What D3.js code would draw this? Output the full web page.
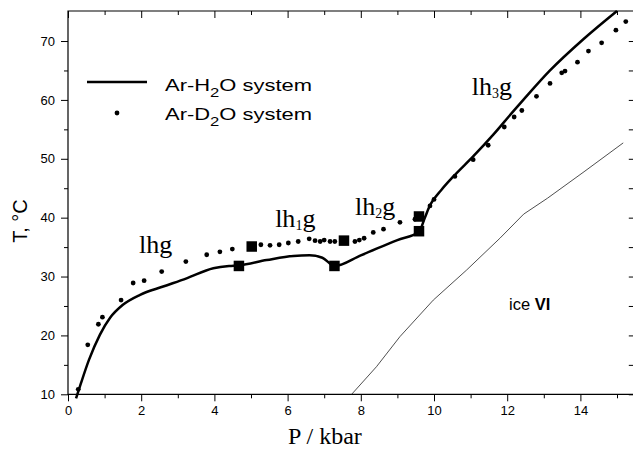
<!DOCTYPE html>
<html><head><meta charset="utf-8">
<script src="https://cdn.jsdelivr.net/npm/d3@7"></script>
<style>body{margin:0;background:#fff}svg{display:block}</style>
</head><body>
<svg id="c" width="633" height="450"></svg>
<script>
// ---- data ----
const h2oP = [0.22,0.35,0.57,0.87,1.15,1.5,1.97,2.6,3.24,3.97,4.4,4.67,5.43,6.16,6.6,6.95,7.28,8.0,9.0,9.59,9.75,9.89,10.2,10.53,11.07,11.62,12.17,12.44,13.17,14.08,15.0];
const h2oT = [9.3,11.8,15.8,20.1,23.0,25.2,26.9,28.3,29.7,31.4,31.8,31.9,32.8,33.5,33.6,33.2,31.8,33.6,36.2,37.6,40.0,42.1,44.7,47.0,50.4,54.1,58.1,60.0,65.0,70.3,75.1];
const d2oP = [0.28,0.54,0.83,0.94,1.45,1.78,2.08,2.56,3.22,3.79,4.15,4.49,5.27,5.52,5.77,6.02,6.29,6.59,6.75,6.89,7.0,7.16,7.29,7.84,7.96,8.09,8.34,8.62,9.07,9.48,9.89,10.0,10.57,11.07,11.48,11.92,12.19,12.4,12.8,13.17,13.49,13.58,13.92,14.22,14.58,14.97,15.24];
const d2oT = [10.85,18.4,21.9,23.1,26.0,28.9,29.3,30.85,32.55,33.7,34.2,34.66,35.4,35.3,35.4,35.7,35.95,36.4,36.1,35.95,36.2,35.95,35.95,35.95,36.2,36.5,37.5,38.05,39.2,39.75,42.0,43.1,47.0,49.85,52.3,55.4,57.1,58.2,60.6,62.8,64.6,64.9,66.4,68.3,69.7,71.85,73.3];
const h2oSqP = [4.67,7.28,9.59];
const h2oSqT = [31.8,31.8,37.7];
const d2oSqP = [5.02,7.54,9.59];
const d2oSqT = [35.1,36.1,40.2];
const iceP = [7.75,8.43,9.07,9.98,10.89,11.8,12.45,13.1,14.1,15.17];
const iceT = [10.0,14.7,19.8,26.0,31.1,36.5,40.6,43.3,47.8,52.7];
const xMajor = [0,2,4,6,8,10,12,14];
const xMinor = [1,3,5,7,9,11,13,15];
const yMajor = [10,20,30,40,50,60,70];
const yMinor = [15,25,35,45,55,65];
const regionLabels = [
  {p:1.94, t:34.0, a:"lhg", sub:""},
  {p:5.66, t:38.4, a:"lh", sub:"1"},
  {p:7.84, t:40.5, a:"lh", sub:"2"},
  {p:11.03, t:60.8, a:"lh", sub:"3"}
];

// ---- chart ----
const svg = d3.select("#c");
const L=68, R=634.4, T=11, B=394.3;
const x = d3.scaleLinear().domain([0,(R-L)/36.6]).range([L,R]);
const y = d3.scaleLinear().domain([10,75.1]).range([B,T]);
const sans = "'Liberation Sans', Arial, sans-serif";
const serif = "'Liberation Serif', 'Times New Roman', serif";

function ax(gen, tx, ty, vals, size, labels){
  const g = svg.append("g").attr("transform",`translate(${tx},${ty})`)
    .call(gen.tickValues(vals).tickSize(size).tickPadding(labels?6:0).tickFormat(labels?d3.format("d"):""));
  g.select(".domain").remove();
  g.selectAll("line").attr("stroke","#000").attr("stroke-width",1);
  g.selectAll("text").attr("font-family",sans).attr("font-size",13).attr("fill","#000");
  return g;
}
// bottom
ax(d3.axisBottom(x),0,B,xMajor,7,true).selectAll("text").attr("y",11);
ax(d3.axisBottom(x),0,B,xMinor,4,false);
// left
ax(d3.axisLeft(y),L,0,yMajor,7,true);
ax(d3.axisLeft(y),L,0,yMinor,4,false);
// top (inward)
ax(d3.axisTop(x),0,T,xMajor,-7,false);
ax(d3.axisTop(x),0,T,xMinor,-4,false);
// right (inward)
ax(d3.axisRight(y),R-0.6,0,yMajor.concat(yMinor),-5,false);

// frame
svg.append("path").attr("d",`M${L},${B}H${R}V${T}H${L}Z`)
  .attr("fill","none").attr("stroke","#000").attr("stroke-width",1.2);

// ice line
svg.append("path").datum(iceP.map((p,i)=>[p,iceT[i]]))
  .attr("d",d3.line().x(d=>x(d[0])).y(d=>y(d[1])))
  .attr("fill","none").attr("stroke","#222").attr("stroke-width",0.8);

// H2O line
svg.append("path").datum(h2oP.map((p,i)=>[p,h2oT[i]]))
  .attr("d",d3.line().x(d=>x(d[0])).y(d=>y(d[1])).curve(d3.curveMonotoneX))
  .attr("fill","none").attr("stroke","#000").attr("stroke-width",2.5);

// D2O dots
svg.append("g").selectAll("circle").data(d2oP.map((p,i)=>[p,d2oT[i]])).join("circle")
  .attr("cx",d=>x(d[0])).attr("cy",d=>y(d[1])).attr("r",2.4).attr("fill","#000");

// squares
const sq = 10.5;
svg.append("g").selectAll("rect")
  .data(h2oSqP.map((p,i)=>[p,h2oSqT[i]]).concat(d2oSqP.map((p,i)=>[p,d2oSqT[i]])))
  .join("rect").attr("x",d=>x(d[0])-sq/2).attr("y",d=>y(d[1])-sq/2)
  .attr("width",sq).attr("height",sq).attr("fill","#000");

// region labels
regionLabels.forEach(l=>{
  const t = svg.append("text").attr("x",x(l.p)).attr("y",y(l.t))
    .attr("font-family",serif).attr("font-size",26).attr("fill","#000");
  t.append("tspan").text(l.a);
  if(l.sub){
    t.append("tspan").attr("font-size",14).attr("dy",3).text(l.sub);
    t.append("tspan").attr("dy",-3).text("g");
  }
});

// ice VI
const ice = svg.append("text").attr("x",x(12.05)).attr("y",y(24.3))
  .attr("font-family",sans).attr("font-size",16.5).attr("fill","#000");
ice.append("tspan").text("ice ");
ice.append("tspan").attr("font-weight","bold").text("VI");

// legend
svg.append("line").attr("x1",87).attr("x2",147).attr("y1",82).attr("y2",82)
  .attr("stroke","#000").attr("stroke-width",2.5);
svg.append("circle").attr("cx",117).attr("cy",113).attr("r",2.4).attr("fill","#000");
[["Ar-H","O system",90.5],["Ar-D","O system",119.5]].forEach(r=>{
  const g = svg.append("g").attr("transform",`translate(165,${r[2]}) scale(1.33,1)`);
  const t = g.append("text").attr("font-family",sans).attr("font-size",16.5).attr("fill","#000");
  t.append("tspan").text(r[0]);
  t.append("tspan").attr("font-size",12.5).attr("dy",6).text("2");
  t.append("tspan").attr("dy",-6).text(r[1]);
});

// axis titles
svg.append("text").attr("transform","translate(27,221) rotate(-90)")
  .attr("text-anchor","middle").attr("font-family",sans).attr("font-size",20).attr("fill","#000")
  .text("T, °C");
svg.append("text").attr("x",288).attr("y",444)
  .attr("font-family",serif).attr("font-size",24).attr("fill","#000").text("P / kbar");
</script>
</body></html>
